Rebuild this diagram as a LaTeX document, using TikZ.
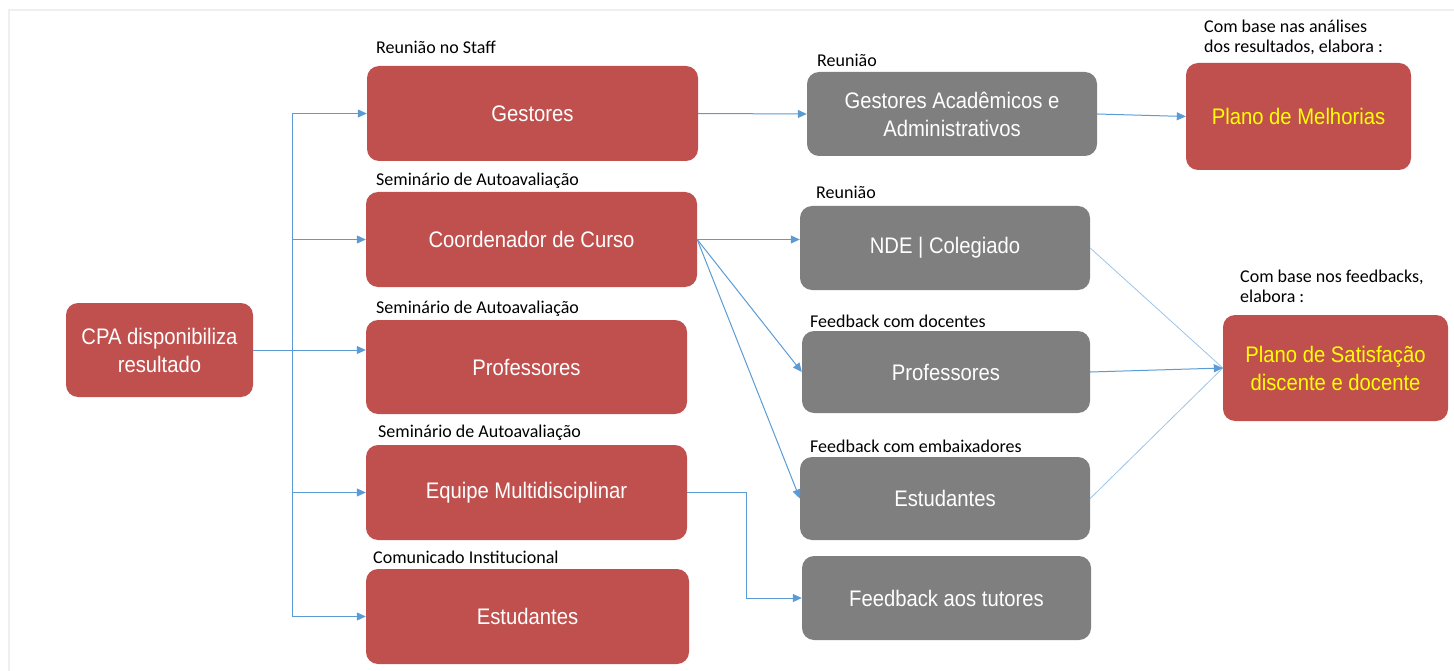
\documentclass[tikz,border=0pt]{standalone}
\usepackage{fontspec}
\setmainfont{Carlito}
\newfontfamily\boxfont[FakeStretch=0.9]{Liberation Sans}
\usetikzlibrary{arrows.meta}
\definecolor{boxred}{HTML}{C0504D}
\definecolor{boxgray}{HTML}{7F7F7F}
\definecolor{lineblue}{HTML}{5B9BD5}
\definecolor{lightblue}{HTML}{9DC3E6}
\definecolor{framegray}{HTML}{EFEFEF}
\definecolor{plantext}{HTML}{FFFF00}
\tikzset{
  basebox/.style={rounded corners=12pt, inner sep=0pt, align=center,
    font=\boxfont\fontsize{22.5}{28}\selectfont},
  redbox/.style={basebox, fill=boxred, text=white},
  graybox/.style={basebox, fill=boxgray, text=white},
  planbox/.style={basebox, fill=boxred, text=plantext},
  lbl/.style={anchor=base west, inner sep=0pt, font=\fontsize{18}{20}\selectfont, align=left},
  conn/.style={draw=lineblue, line width=1pt},
  arr/.style={conn, -{Triangle[length=9pt,width=8pt]}},
  faint/.style={draw=lightblue, line width=0.8pt},
}
\begin{document}
\begin{tikzpicture}[x=1pt,y=-1pt]
\useasboundingbox (0,0) rectangle (1454,671);
% faint frame
\draw[framegray, line width=2pt] (9,671) -- (9,10) -- (1454,10);

% left column
\node[redbox, minimum width=187pt, minimum height=94pt] (cpa) at (159.5,350) {CPA disponibiliza\\resultado};

% middle column (red)
\node[redbox, minimum width=331pt, minimum height=95pt] (gest) at (532.5,113.5) {Gestores};
\node[redbox, minimum width=331pt, minimum height=95pt] (coord) at (531.5,239.5) {Coordenador de Curso};
\node[redbox, minimum width=321pt, minimum height=94pt] (profR) at (526.5,367) {Professores};
\node[redbox, minimum width=321pt, minimum height=95pt] (equipe) at (526.5,492.5) {Equipe Multidisciplinar};
\node[redbox, minimum width=323pt, minimum height=95pt] (estR) at (527.5,616.5) {Estudantes};

\node[lbl] (l1) at (376,54) {Reunião no Staff};
\node[lbl] (l2) at (376,186) {Seminário de Autoavaliação};
\node[lbl] (l3) at (376,313) {Seminário de Autoavaliação};
\node[lbl] (l4) at (378,437) {Seminário de Autoavaliação};
\node[lbl] (l5) at (373,563) {Comunicado Institucional};

% right-middle column (gray)
\node[graybox, minimum width=290pt, minimum height=84pt] (ga) at (952,114) {Gestores Acadêmicos e\\Administrativos};
\node[graybox, minimum width=290pt, minimum height=84pt] (nde) at (945,248) {NDE | Colegiado};
\node[graybox, minimum width=288pt, minimum height=82pt] (profG) at (946,372) {Professores};
\node[graybox, minimum width=290pt, minimum height=83pt] (estG) at (945,498.5) {Estudantes};
\node[graybox, minimum width=289pt, minimum height=84pt] (tut) at (946.5,598) {Feedback aos tutores};

\node[lbl] (l6) at (817,67) {Reunião};
\node[lbl] (l7) at (816,199) {Reunião};
\node[lbl] (l8) at (810,327) {Feedback com docentes};
\node[lbl] (l9) at (810,452) {Feedback com embaixadores};

% right column
\node[planbox, minimum width=225pt, minimum height=107pt] (pm) at (1298.5,116.5) {Plano de Melhorias};
\node[planbox, minimum width=225pt, minimum height=106pt] (ps) at (1335.5,368) {Plano de Satisfação\\discente e docente};

\node[lbl, anchor=north west] (l10) at (1204,20) {Com base nas análises\\dos resultados, elabora :};
\node[lbl, anchor=north west] (l11) at (1240,270) {Com base nos feedbacks,\\elabora :};

% connectors from CPA
\coordinate (tr) at (292,0);
\draw[conn] (cpa.east) -- (tr |- cpa.east);
\draw[conn] (tr |- gest.west) -- (tr |- estR.west);
\draw[arr] (tr |- gest.west) -- (gest.west);
\draw[arr] (tr |- coord.west) -- (coord.west);
\draw[arr] (cpa.east) -- (cpa.east -| profR.west);
\draw[arr] (tr |- equipe.west) -- (equipe.west);
\draw[arr] (tr |- estR.west) -- (estR.west);

% middle connectors
\draw[arr] (gest.east) -- (ga.west);
\draw[arr] (ga.east) -- (pm.west);
\draw[arr] (coord.east) -- (coord.east -| nde.west);
\draw[arr] (coord.east) -- (profG.west);
\draw[arr] (coord.east) -- (estG.west);
\draw[arr] (equipe.east) -- ++(59,0) |- (tut.west);

% to Plano de Satisfacao
\draw[faint] (nde.east) -- (ps.west);
\draw[faint] (estG.east) -- (ps.west);
\draw[arr] (profG.east) -- (ps.west);
\end{tikzpicture}
\end{document}
